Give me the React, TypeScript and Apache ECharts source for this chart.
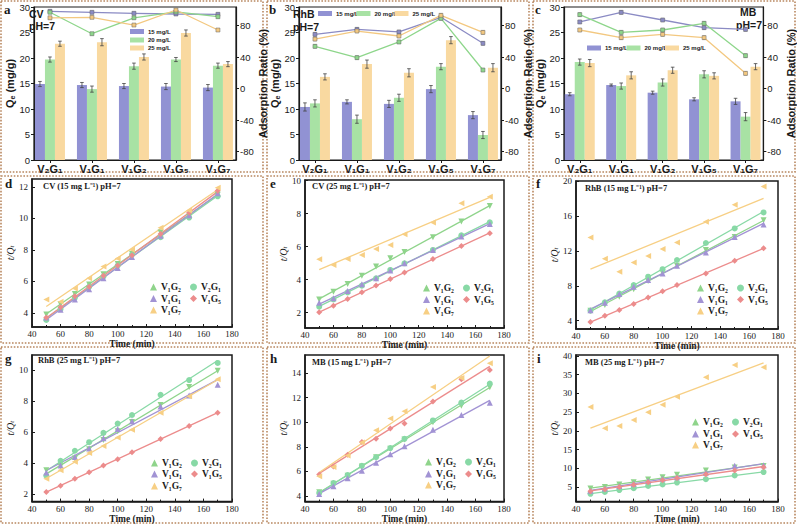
import React, { useEffect, useRef } from 'react';
import * as echarts from 'echarts';

// ---------------- data ----------------
const GROUPS = ['V₂G₁', 'V₁G₁', 'V₁G₂', 'V₁G₅', 'V₁G₇'];
const CONC = ['15 mg/L', '20 mg/L', '25 mg/L'];
const RATIO_TICKS = [-80, -40, 0, 40, 80];

// (a) CV
const cvQe15 = [14.9, 14.7, 14.5, 14.4, 14.2];
const cvQe20 = [19.7, 13.9, 18.4, 19.7, 18.5];
const cvQe25 = [22.8, 23.1, 20.2, 24.9, 18.8];
const cvQeErr15 = [0.5, 0.5, 0.5, 0.6, 0.6];
const cvQeErr20 = [0.5, 0.6, 0.6, 0.4, 0.5];
const cvQeErr25 = [0.5, 0.7, 0.6, 0.6, 0.5];
const cvRatio15 = [98.2, 96.9, 95.7, 94.8, 94.4];
const cvRatio20 = [97.0, 69.8, 90.0, 97.4, 91.4];
const cvRatio25 = [90.0, 90.6, 80.8, 99.9, 74.5];
const cvRatioErr = [1.5, 1.5, 1.5, 1.5, 1.5];

// (b) RhB
const rhbQe15 = [10.4, 11.4, 11.0, 13.9, 8.8];
const rhbQe20 = [11.1, 8.0, 12.2, 18.3, 4.9];
const rhbQe25 = [16.3, 18.8, 17.1, 23.5, 18.1];
const rhbQeErr15 = [0.8, 0.4, 0.7, 0.7, 0.7];
const rhbQeErr20 = [0.7, 0.8, 0.7, 0.6, 0.7];
const rhbQeErr25 = [0.6, 0.8, 0.8, 0.7, 0.8];
const rhbRatio15 = [69.0, 75.3, 72.0, 90.6, 57.6];
const rhbRatio20 = [53.8, 39.4, 59.3, 89.3, 23.7];
const rhbRatio25 = [63.0, 73.2, 66.9, 93.1, 71.5];
const rhbRatioErr = [2, 2, 2, 2, 2];

// (c) MB
const mbQe15 = [12.9, 14.7, 13.2, 11.9, 11.5];
const mbQe20 = [19.2, 14.5, 15.2, 16.8, 8.5];
const mbQe25 = [19.0, 16.6, 17.6, 16.5, 18.3];
const mbQeErr15 = [0.3, 0.2, 0.3, 0.3, 0.6];
const mbQeErr20 = [0.6, 0.6, 0.7, 0.7, 0.8];
const mbQeErr25 = [0.7, 0.7, 0.6, 0.6, 0.6];
const mbRatio15 = [84.7, 96.9, 87.2, 77.5, 75.3];
const mbRatio20 = [94.0, 71.5, 74.5, 83.0, 41.9];
const mbRatio25 = [74.5, 64.8, 69.0, 64.8, 19.5];
const mbRatioErr = [2, 2, 2, 2, 2];

// kinetics t/Qt
const TIMES = [50, 60, 70, 80, 90, 100, 110, 130, 150, 170];
const KIN_NAMES = ['V₁G₂', 'V₂G₁', 'V₁G₁', 'V₁G₅', 'V₁G₇'];

const cv15V1G2 = [3.9, 4.55, 5.2, 5.8, 6.45, 7.1, 7.75, 9.1, 10.1, 11.5];
const cv15V2G1 = [3.55, 4.25, 4.95, 5.65, 6.3, 7.0, 7.7, 8.8, 10.05, 11.4];
const cv15V1G1 = [3.7, 4.2, 4.85, 5.5, 6.2, 6.85, 7.55, 8.9, 10.2, 11.6];
const cv15V1G5 = [3.7, 4.35, 5.05, 5.65, 6.35, 7.0, 7.65, 9.0, 10.35, 11.75];
const cv15V1G7 = [4.85, 4.7, 5.55, 6.2, 6.95, 7.45, 8.0, 9.4, 10.5, 11.95];

const cv25V1G2 = [2.8, 3.27, 3.74, 4.24, 4.79, 5.3, 5.68, 6.57, 7.52, 8.46];
const cv25V2G1 = [2.36, 2.8, 3.23, 3.64, 4.08, 4.59, 4.99, 5.8, 6.69, 7.47];
const cv25V1G1 = [2.6, 2.87, 3.31, 3.72, 4.08, 4.55, 4.99, 5.8, 6.61, 7.37];
const cv25V1G5 = [2.02, 2.42, 2.83, 3.23, 3.64, 4.04, 4.44, 5.25, 6.04, 6.81];
const cv25V1G7 = [5.23, 4.89, 5.25, 5.5, 5.86, 6.1, 6.75, 7.47, 8.63, 9.03];

const rhb15V1G2 = [5.15, 5.8, 6.75, 7.6, 8.55, 9.5, 10.3, 12.1, 13.6, 15.5];
const rhb15V2G1 = [5.15, 6.1, 7.1, 8.08, 9.04, 9.9, 10.95, 12.9, 14.57, 16.4];
const rhb15V1G1 = [5.2, 6.06, 7.05, 7.9, 8.65, 9.42, 10.3, 11.8, 13.6, 15.03];
const rhb15V1G5 = [3.85, 4.57, 5.22, 5.9, 6.67, 7.36, 8.08, 9.42, 10.87, 12.3];
const rhb15V1G7 = [13.54, 11.1, 9.61, 10.68, 11.4, 12.2, 12.97, 15.34, 17.28, 19.38];

const rhb25V1G2 = [3.55, 3.8, 4.3, 4.9, 5.5, 6.05, 6.65, 7.75, 8.9, 9.95];
const rhb25V2G1 = [3.2, 4.15, 4.8, 5.35, 5.95, 6.55, 7.1, 8.4, 9.35, 10.45];
const rhb25V1G1 = [3.4, 3.85, 4.4, 4.95, 5.6, 6.2, 6.7, 7.65, 8.35, 9.05];
const rhb25V1G5 = [2.15, 2.55, 3.0, 3.42, 3.85, 4.25, 4.7, 5.55, 6.4, 7.25];
const rhb25V1G7 = [3.0, 3.55, 4.1, 4.65, 5.1, 5.65, 6.15, 7.25, 8.3, 9.4];

const mb15V1G2 = [4.3, 5.0, 5.65, 6.4, 7.15, 7.85, 8.6, 10.0, 11.35, 12.85];
const mb15V2G1 = [4.25, 5.05, 5.7, 6.45, 7.15, 7.9, 8.65, 10.15, 11.6, 13.15];
const mb15V1G1 = [4.15, 4.8, 5.45, 6.05, 6.7, 7.4, 8.05, 9.4, 10.6, 11.6];
const mb15V1G5 = [5.75, 6.4, 7.35, 8.4, 8.65, 9.5, 9.9, 11.7, 13.5, 14.25];
const mb15V1G7 = [5.6, 6.35, 7.3, 8.35, 9.35, 10.3, 10.9, 12.87, 13.6, 14.8];

const mb25V1G2 = [4.6, 5.0, 5.7, 6.3, 7.0, 7.6, 8.3, 9.4, 10.2, 10.6];
const mb25V2G1 = [3.2, 3.7, 4.2, 4.7, 5.3, 5.7, 6.2, 7.1, 8.1, 9.0];
const mb25V1G1 = [4.0, 4.6, 5.3, 5.9, 6.6, 7.2, 7.6, 8.8, 10.7, 10.8];
const mb25V1G5 = [3.9, 4.4, 5.0, 5.6, 6.3, 6.8, 7.4, 8.4, 9.4, 10.3];
const mb25V1G7 = [26.4, 20.7, 21.3, 22.9, 25.0, 27.0, 29.1, 34.3, 37.6, 37.0];

// ---------------- styles ----------------
const SANS = '"Liberation Sans", Arial, sans-serif';
const SERIF = '"Liberation Serif", "Times New Roman", serif';
const INK = '#1a1a1a';
const BAR_COLORS = ['#9192d3', '#a8e2a4', '#f9d9a0'];
const LINE_COLORS = ['#8b8bc4', '#8ed68b', '#f3c880'];
const KIN_STYLE = [
  { symbol: 'triangle', rotate: 180, color: '#8fd48b' },
  { symbol: 'circle', rotate: 0, color: '#88d9a6' },
  { symbol: 'triangle', rotate: 0, color: '#a293d4' },
  { symbol: 'diamond', rotate: 0, color: '#ec8c8c' },
  { symbol: 'triangle', rotate: 90, color: '#f7cf84' },
];

const BAR_PANELS = [
  {
    grid: { left: 34, top: 7, width: 202, height: 153 },
    qe: [cvQe15, cvQe20, cvQe25], qeErr: [cvQeErr15, cvQeErr20, cvQeErr25],
    ratio: [cvRatio15, cvRatio20, cvRatio25], ratioErr: cvRatioErr,
    tag: 'a', tagPos: [4, 3], dye: 'CV', dyePos: [29, 13.5], phPos: [29, 26],
    legendPos: [[130, 28.5], [130, 37], [130, 45]],
  },
  {
    grid: { left: 299, top: 7, width: 202, height: 153 },
    qe: [rhbQe15, rhbQe20, rhbQe25], qeErr: [rhbQeErr15, rhbQeErr20, rhbQeErr25],
    ratio: [rhbRatio15, rhbRatio20, rhbRatio25], ratioErr: rhbRatioErr,
    tag: 'b', tagPos: [269, 3], dye: 'RhB', dyePos: [293, 14], phPos: [293, 26.5],
    legendPos: [[318, 10.5], [356.5, 10.5], [394.5, 10.5]],
  },
  {
    grid: { left: 564, top: 7, width: 202, height: 153 },
    qe: [mbQe15, mbQe20, mbQe25], qeErr: [mbQeErr15, mbQeErr20, mbQeErr25],
    ratio: [mbRatio15, mbRatio20, mbRatio25], ratioErr: mbRatioErr,
    tag: 'c', tagPos: [535, 3], dye: 'MB', dyePos: [740, 12], phPos: [736, 24.5],
    legendPos: [[587, 45], [626.5, 45], [665, 45]],
  },
];

const KIN_PANELS = [
  { grid: { left: 32, top: 179, width: 200, height: 148 }, yMin: 3.1, yMax: 12.5, yTicks: [4, 6, 8, 10, 12],
    data: [cv15V1G2, cv15V2G1, cv15V1G1, cv15V1G5, cv15V1G7], title: 'CV (15 mg L⁻¹) pH=7', titlePos: [43, 185.5],
    tag: 'd', tagPos: [5, 177], yGap: 16, xGap: 9.5, legCols: [150, 190], legRows: [282, 293.5, 305] },
  { grid: { left: 305, top: 180, width: 199, height: 148 }, yMin: 1.07, yMax: 10.04, yTicks: [2, 4, 6, 8, 10],
    data: [cv25V1G2, cv25V2G1, cv25V1G1, cv25V1G5, cv25V1G7], title: 'CV (25 mg L⁻¹) pH=7', titlePos: [312, 186],
    tag: 'e', tagPos: [270, 177], yGap: 6, xGap: 9, legCols: [423, 463], legRows: [283, 294.5, 306] },
  { grid: { left: 576, top: 181, width: 202, height: 148 }, yMin: 3.05, yMax: 20, yTicks: [4, 8, 12, 16, 20],
    data: [rhb15V1G2, rhb15V2G1, rhb15V1G1, rhb15V1G5, rhb15V1G7], title: 'RhB (15 mg L⁻¹) pH=7', titlePos: [585, 188],
    tag: 'f', tagPos: [536, 177], yGap: 6, xGap: 8, legCols: [697, 737], legRows: [283, 294.5, 306] },
  { grid: { left: 32, top: 355, width: 200, height: 148 }, yMin: 1.53, yMax: 10.96, yTicks: [2, 4, 6, 8, 10],
    data: [rhb25V1G2, rhb25V2G1, rhb25V1G1, rhb25V1G5, rhb25V1G7], title: 'RhB (25 mg L⁻¹) pH=7', titlePos: [38, 360],
    tag: 'g', tagPos: [5, 352], yGap: 16, xGap: 8.5, legCols: [151, 191], legRows: [458, 469, 481] },
  { grid: { left: 305, top: 355, width: 199, height: 148 }, yMin: 3.54, yMax: 15.48, yTicks: [4, 6, 8, 10, 12, 14],
    data: [mb15V1G2, mb15V2G1, mb15V1G1, mb15V1G5, mb15V1G7], title: 'MB (15 mg L⁻¹) pH=7', titlePos: [312, 362],
    tag: 'h', tagPos: [270, 352], yGap: 6, xGap: 8.5, legCols: [425, 465], legRows: [457, 469, 480] },
  { grid: { left: 576, top: 355, width: 202, height: 148 }, yMin: 1.12, yMax: 40.26, yTicks: [5, 10, 15, 20, 25, 30, 35, 40],
    data: [mb25V1G2, mb25V2G1, mb25V1G1, mb25V1G5, mb25V1G7], title: 'MB (25 mg L⁻¹) pH=7', titlePos: [585, 362],
    tag: 'i', tagPos: [537, 352], yGap: 6, xGap: 8.5, legCols: [692, 732], legRows: [417, 429, 440] },
];

const BORDERS = [
  [1, 1, 262, 171], [267, 1, 262, 171], [533, 1, 262, 171],
  [1, 176, 262, 167], [267, 176, 262, 167], [533, 176, 262, 167],
  [1, 347, 262, 176], [267, 347, 262, 176], [533, 347, 262, 176],
];

function linFit(xs: number[], ys: number[]) {
  const n = xs.length;
  const mx = xs.reduce((a, b) => a + b, 0) / n;
  const my = ys.reduce((a, b) => a + b, 0) / n;
  let sxy = 0, sxx = 0;
  for (let i = 0; i < n; i++) { sxy += (xs[i] - mx) * (ys[i] - my); sxx += (xs[i] - mx) * (xs[i] - mx); }
  const b = sxy / sxx;
  return { a: my - b * mx, b };
}

function errRender(offset: number, capW: number) {
  return (params: any, api: any) => {
    const x = api.value(0), y = api.value(1), e = api.value(2);
    const p1 = api.coord([x, y + e]);
    const p2 = api.coord([x, y - e]);
    const cx = p1[0] + offset;
    const st = { stroke: '#444', lineWidth: 0.8 };
    return {
      type: 'group',
      children: [
        { type: 'line', shape: { x1: cx, y1: p1[1], x2: cx, y2: p2[1] }, style: st },
        { type: 'line', shape: { x1: cx - capW, y1: p1[1], x2: cx + capW, y2: p1[1] }, style: st },
        { type: 'line', shape: { x1: cx - capW, y1: p2[1], x2: cx + capW, y2: p2[1] }, style: st },
      ],
    };
  };
}

function buildOption() {
  const grid: any[] = [], xAxis: any[] = [], yAxis: any[] = [], series: any[] = [], legend: any[] = [], graphic: any[] = [];

  BORDERS.forEach(([x, y, w, h]) => {
    graphic.push({ type: 'rect', shape: { x, y, width: w, height: h }, silent: true, z: -1,
      style: { fill: 'none', stroke: '#b8875f', lineWidth: 1.6, lineDash: [1.6, 1.6] } });
  });

  const idx = [0, 1, 2, 3, 4];

  BAR_PANELS.forEach((p) => {
    const gi = grid.length;
    grid.push({ ...p.grid, show: true, borderColor: INK, borderWidth: 1.2, backgroundColor: 'transparent' });
    const xi = xAxis.length;
    xAxis.push({
      type: 'value', gridIndex: gi, min: -0.38, max: 4.43,
      axisLine: { show: true, onZero: false, lineStyle: { color: INK, width: 1.2 } },
      axisTick: { show: true, customValues: idx, length: 3, lineStyle: { color: INK } },
      axisLabel: { customValues: idx, formatter: (v: number) => GROUPS[Math.round(v)] ?? '', fontSize: 11,
        fontWeight: 'bold', color: INK, margin: 3, fontFamily: SANS },
      splitLine: { show: false },
    });
    const yl = yAxis.length;
    yAxis.push({
      type: 'value', gridIndex: gi, min: 0, max: 30, interval: 5, position: 'left',
      axisLine: { show: true, onZero: false, lineStyle: { color: INK, width: 1.2 } },
      axisTick: { show: true, length: 3, lineStyle: { color: INK } },
      axisLabel: { fontSize: 9.5, color: INK, margin: 4, fontFamily: SANS },
      splitLine: { show: false },
      name: '{a|Q}{s|e}{a| (mg/g)}', nameLocation: 'middle', nameGap: 18,
      nameTextStyle: { rich: {
        a: { fontSize: 11, fontWeight: 'bold', fontFamily: SANS, color: INK },
        s: { fontSize: 7, fontWeight: 'bold', fontFamily: SANS, color: INK, verticalAlign: 'bottom' },
      } },
    });
    const yr = yAxis.length;
    yAxis.push({
      type: 'value', gridIndex: gi, min: -90.5, max: 103.7, position: 'right',
      axisLine: { show: true, onZero: false, lineStyle: { color: INK, width: 1.2 } },
      axisTick: { show: true, customValues: RATIO_TICKS, length: 3, lineStyle: { color: INK } },
      axisLabel: { customValues: RATIO_TICKS, fontSize: 9.5, color: INK, margin: 4, fontFamily: SANS },
      splitLine: { show: false },
      name: 'Adsorption Ratio (%)', nameLocation: 'middle', nameGap: 19, nameRotate: 90,
      nameTextStyle: { fontSize: 11, fontWeight: 'bold', fontFamily: SANS, color: INK },
    });
    const offsets = [-10, 0, 10];
    p.qe.forEach((vals, k) => {
      series.push({
        type: 'bar', name: CONC[k], xAxisIndex: xi, yAxisIndex: yl, barWidth: 10, barGap: '0%',
        data: vals.map((v, i) => [i, v]), itemStyle: { color: BAR_COLORS[k] }, z: 2,
      });
    });
    p.qe.forEach((vals, k) => {
      series.push({
        type: 'custom', name: 'qeErr' + k, xAxisIndex: xi, yAxisIndex: yl, z: 4,
        renderItem: errRender(offsets[k], 1.8),
        data: vals.map((v, i) => [i, v, p.qeErr[k][i]]),
      });
    });
    p.ratio.forEach((vals, k) => {
      series.push({
        type: 'line', name: CONC[k] + ' ratio', xAxisIndex: xi, yAxisIndex: yr,
        data: vals.map((v, i) => [i, v]), symbol: 'rect', symbolSize: 4, z: 5,
        lineStyle: { color: LINE_COLORS[k], width: 1.3 },
        itemStyle: { color: LINE_COLORS[k], borderColor: '#666', borderWidth: 0.5 },
      });
      series.push({
        type: 'custom', name: 'ratioErr' + k, xAxisIndex: xi, yAxisIndex: yr, z: 5,
        renderItem: errRender(0, 1.5),
        data: vals.map((v, i) => [i, v, p.ratioErr[i]]),
      });
    });
    CONC.forEach((c, k) => {
      legend.push({
        data: [{ name: c, icon: 'rect' }], left: p.legendPos[k][0], top: p.legendPos[k][1], padding: 0,
        itemWidth: 14, itemHeight: 5, itemGap: 0,
        textStyle: { fontSize: 6, fontWeight: 'bold', fontFamily: SANS, color: INK, padding: [0, 0, 0, -1] },
      });
    });
    graphic.push({ type: 'text', x: p.tagPos[0], y: p.tagPos[1], style: { text: p.tag, font: `bold 13px ${SERIF}`, fill: INK, verticalAlign: 'top' } });
    graphic.push({ type: 'text', x: p.dyePos[0], y: p.dyePos[1], style: { text: p.dye, font: `bold 10.5px ${SANS}`, fill: INK, verticalAlign: 'middle' } });
    graphic.push({ type: 'text', x: p.phPos[0], y: p.phPos[1], style: { text: 'pH=7', font: `bold 10.5px ${SANS}`, fill: INK, verticalAlign: 'middle' } });
  });

  KIN_PANELS.forEach((p) => {
    const gi = grid.length;
    grid.push({ ...p.grid, show: true, borderColor: INK, borderWidth: 1.5, backgroundColor: 'transparent' });
    const xi = xAxis.length;
    xAxis.push({
      type: 'value', gridIndex: gi, min: 40, max: 180, interval: 20,
      axisLine: { show: true, onZero: false, lineStyle: { color: INK, width: 1.5 } },
      axisTick: { show: true, inside: true, length: 3, lineStyle: { color: INK } },
      minorTick: { show: true, splitNumber: 2, length: 2, lineStyle: { color: INK } },
      axisLabel: { fontSize: 9, color: INK, margin: 2.5, fontFamily: SERIF },
      splitLine: { show: false },
      name: 'Time (min)', nameLocation: 'middle', nameGap: p.xGap,
      nameTextStyle: { fontSize: 9.5, fontWeight: 'bold', fontFamily: SERIF, color: INK },
    });
    const yi = yAxis.length;
    yAxis.push({
      type: 'value', gridIndex: gi, min: p.yMin, max: p.yMax,
      axisLine: { show: true, onZero: false, lineStyle: { color: INK, width: 1.5 } },
      axisTick: { show: true, inside: true, length: 3, customValues: p.yTicks, lineStyle: { color: INK } },
      axisLabel: { customValues: p.yTicks, fontSize: 9, color: INK, margin: 4, fontFamily: SERIF },
      splitLine: { show: false },
      name: '{i|t/Q}{s|t}', nameLocation: 'middle', nameGap: p.yGap,
      nameTextStyle: { rich: {
        i: { fontSize: 10, fontStyle: 'italic', fontFamily: SERIF, color: INK },
        s: { fontSize: 6.5, fontStyle: 'italic', fontFamily: SERIF, color: INK, verticalAlign: 'bottom' },
      } },
    });
    p.data.forEach((vals, k) => {
      const st = KIN_STYLE[k];
      const fit = linFit(TIMES, vals);
      const t0 = TIMES[0], t1 = TIMES[TIMES.length - 1];
      series.push({
        type: 'line', name: KIN_NAMES[k] + ' fit', xAxisIndex: xi, yAxisIndex: yi, showSymbol: false, silent: true,
        data: [[t0, fit.a + fit.b * t0], [t1, fit.a + fit.b * t1]],
        lineStyle: { color: st.color, width: 1.3 }, z: 2,
      });
      series.push({
        type: 'scatter', name: KIN_NAMES[k], xAxisIndex: xi, yAxisIndex: yi,
        data: TIMES.map((t, i) => [t, vals[i]]), symbol: st.symbol, symbolRotate: st.rotate, symbolSize: 6,
        itemStyle: { color: st.color, opacity: 1 }, z: 3,
      });
    });
    const cells = [[0, 0], [1, 0], [0, 1], [1, 1], [0, 2]];
    KIN_NAMES.forEach((n, k) => {
      legend.push({
        data: [n], left: p.legCols[cells[k][0]], top: p.legRows[cells[k][1]], padding: 0,
        itemWidth: 7, itemHeight: 7, itemGap: 0,
        textStyle: { fontSize: 9.5, fontWeight: 'bold', fontFamily: SERIF, color: INK, padding: [0, 0, 0, -1] },
      });
    });
    graphic.push({ type: 'text', x: p.titlePos[0], y: p.titlePos[1], style: { text: p.title, font: `bold 8.5px ${SERIF}`, fill: INK, verticalAlign: 'middle' } });
    graphic.push({ type: 'text', x: p.tagPos[0], y: p.tagPos[1], style: { text: p.tag, font: `bold 13px ${SERIF}`, fill: INK, verticalAlign: 'top' } });
  });

  return { animation: false, backgroundColor: '#fff', grid, xAxis, yAxis, series, legend, graphic };
}

export default function App() {
  const ref = useRef<HTMLDivElement>(null);
  useEffect(() => {
    if (!ref.current) return;
    const chart = echarts.init(ref.current, undefined, { renderer: 'svg' });
    chart.setOption(buildOption() as any);
    return () => chart.dispose();
  }, []);
  return <div ref={ref} style={{ position: 'fixed', left: 0, top: 0, width: 797, height: 525, background: '#fff' }} />;
}
